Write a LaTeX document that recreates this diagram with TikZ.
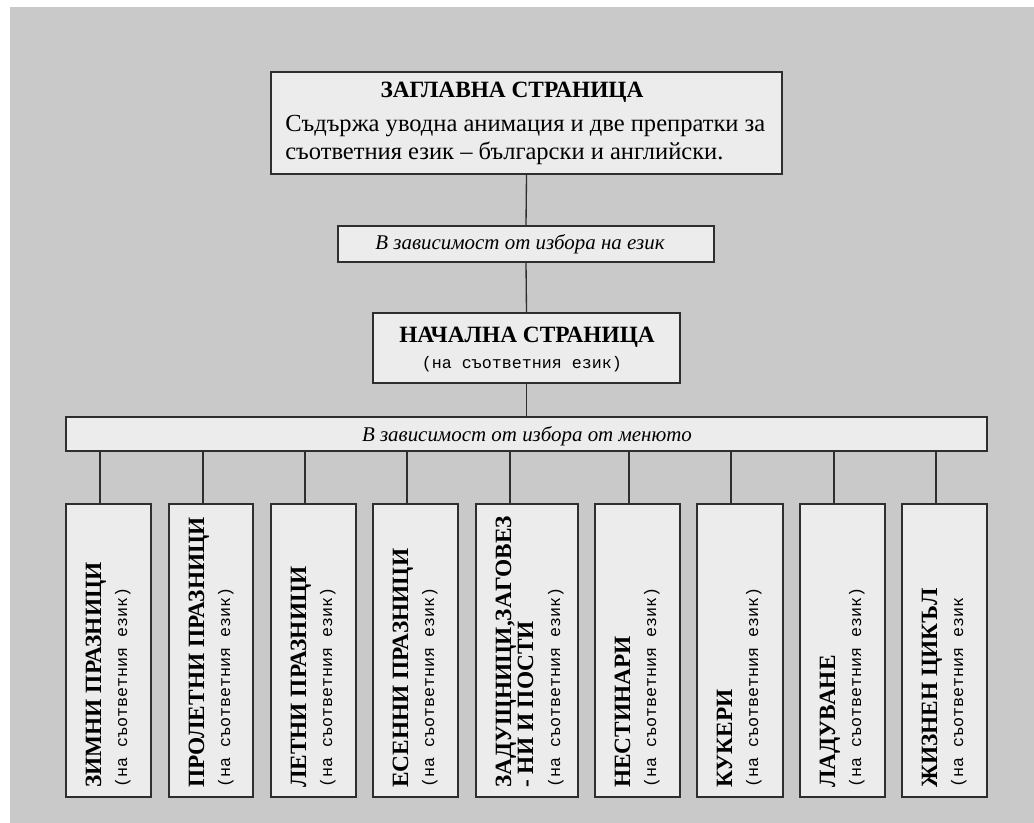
\documentclass[tikz,border=0pt]{standalone}
\usepackage{fontspec}
\setmainfont{Liberation Serif}
\setmonofont{Liberation Mono}
\usetikzlibrary{calc,fit}
\definecolor{bgray}{HTML}{C9C9C9}
\definecolor{boxfill}{HTML}{ECECEC}
\definecolor{edgecol}{HTML}{2E2E2E}
\tikzset{
  boxshape/.style={draw=edgecol, fill=boxfill, line width=1.2pt, inner sep=0pt},
  conn/.style={draw=edgecol, line width=1pt},
  ttl/.style={font=\fontsize{17.5}{20}\selectfont\bfseries, inner sep=0pt},
  subt/.style={font=\fontsize{12.5}{15}\selectfont\ttfamily, inner sep=0pt},
  bodytxt/.style={font=\fontsize{18.4}{21}\selectfont, inner sep=0pt},
  ital/.style={font=\fontsize{15.7}{18}\selectfont\itshape, inner sep=0pt},
}
\newcommand\menuitembox[4]{%
  \node[boxshape, fit={(#2,504) (#3,797)}] (b#1) {};
  \node[ttl, rotate=90, anchor=base west] (t#1) at (#2+35,788) {#4};
  \node[subt, rotate=90, anchor=base west] (s#1) at (#2+61,788) {(на съответния език)};
  \coordinate (c#1) at (#2+34,504);
  \draw[conn] (c#1 |- bar.south) -- (c#1);
}
\begin{document}
\begin{tikzpicture}[x=0.75pt,y=-0.75pt]
\fill[white] (0,0) rectangle (1034,823);
\fill[bgray] (10,7) rectangle (1034,823);
\useasboundingbox (0,0) rectangle (1034,823);

% top box
\node[boxshape, line width=1.6pt, fit={(271,72) (782,174)}] (top) {};
\node[ttl, anchor=base] (toptitle) at (512,98) {ЗАГЛАВНА СТРАНИЦА};
\node[bodytxt, anchor=base west] (topl1) at (285,132) {Съдържа уводна анимация и две препратки за};
\node[bodytxt, anchor=base west] (topl2) at (285,160) {съответния език – български и английски.};

% language choice
\node[boxshape, fit={(338,226) (714,262)}] (lang) {};
\node[ital, anchor=base] (langtxt) at (520,250) {В зависимост от избора на език};

% start page
\node[boxshape, fit={(373,313) (680,383)}] (start) {};
\node[ttl, anchor=base] (starttitle) at (527,342) {НАЧАЛНА СТРАНИЦА};
\node[subt, anchor=base] (startsub) at (522,368) {(на съответния език)};

% menu bar
\node[boxshape, fit={(66,417) (987,451)}] (bar) {};
\node[ital, anchor=base] (bartxt) at (527,441) {В зависимост от избора от менюто};

\draw[conn] (top.south) -- (lang.north);
\draw[conn] (lang.south) -- (start.north);
\draw[conn] (start.south) -- (bar.north);

\menuitembox{1}{66}{151}{ЗИМНИ ПРАЗНИЦИ}
\menuitembox{2}{169}{253}{ПРОЛЕТНИ ПРАЗНИЦИ}
\menuitembox{3}{271}{356}{ЛЕТНИ ПРАЗНИЦИ}
\menuitembox{4}{373}{458}{ЕСЕННИ ПРАЗНИЦИ}

% box 5 (two-line title)
\node[boxshape, fit={(476,504) (578,797)}] (b5) {};
\node[ttl, rotate=90, anchor=base west] (t5a) at (511,788) {ЗАДУЩНИЦИ,ЗАГОВЕЗ};
\node[ttl, rotate=90, anchor=base west] (t5b) at (533,788) {- НИ И ПОСТИ};
\node[subt, rotate=90, anchor=base west] (s5) at (560,788) {(на съответния език)};
\coordinate (c5) at (510,504);
\draw[conn] (c5 |- bar.south) -- (c5);

\menuitembox{6}{595}{680}{НЕСТИНАРИ}
\menuitembox{7}{697}{783}{КУКЕРИ}
\menuitembox{8}{800}{885}{ЛАДУВАНЕ}

% box 9 (subtitle without closing parenthesis)
\node[boxshape, fit={(902,504) (987,797)}] (b9) {};
\node[ttl, rotate=90, anchor=base west] (t9) at (937,788) {ЖИЗНЕН ЦИКЪЛ};
\node[subt, rotate=90, anchor=base west] (s9) at (963,788) {(на съответния език};
\coordinate (c9) at (936,504);
\draw[conn] (c9 |- bar.south) -- (c9);
\end{tikzpicture}
\end{document}
